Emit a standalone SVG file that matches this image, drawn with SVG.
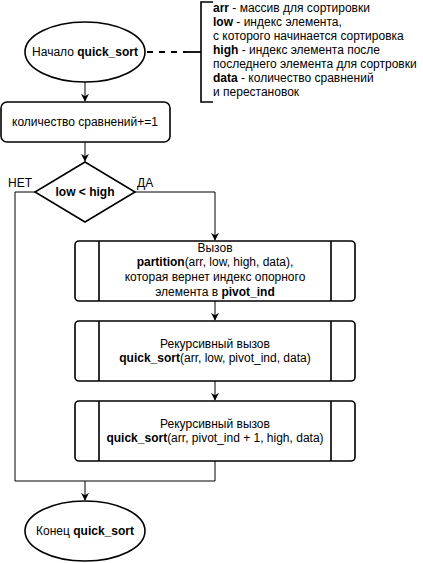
<svg xmlns="http://www.w3.org/2000/svg" width="423" height="563" viewBox="0 0 423 563">
<style>
.s{fill:#fff;stroke:#000;stroke-width:1.6}
.l{fill:none;stroke:#000;stroke-width:1}
.t{font-family:"Liberation Sans",Arial,sans-serif;font-size:12px;fill:#000}
.m{text-anchor:middle}
.b{font-weight:bold}
</style>
<defs>
<marker id="a" viewBox="0 0 10 10" refX="9" refY="5" markerWidth="8" markerHeight="8" markerUnits="userSpaceOnUse" orient="auto">
<path d="M0,0 L10,5 L0,10 L3,5 Z" fill="#000"/>
</marker>
</defs>
<rect width="423" height="563" fill="#fff"/>
<g id="connectors">
<path class="l" d="M85,82 V101" marker-end="url(#a)"/>
<path class="l" d="M85,142 V161" marker-end="url(#a)"/>
<path class="l" d="M135,192 H215 V240" marker-end="url(#a)"/>
<path class="l" d="M215,301 V320" marker-end="url(#a)"/>
<path class="l" d="M215,381 V400" marker-end="url(#a)"/>
<path class="l" d="M35,192 H15 V481 H215 V461"/>
<path class="l" d="M85,481 V500" marker-end="url(#a)"/>
<path class="l" d="M147,52 H186" stroke-dasharray="6,6" style="stroke-width:1.8"/>
<path class="l" d="M186,52 H201" style="stroke-width:1.8"/>
</g>
<g id="start">
<rect class="s" x="25" y="22" width="120" height="60" rx="60" ry="30"/>
<text class="t m" x="85" y="56">Начало <tspan class="b">quick_sort</tspan></text>
</g>
<g id="note">
<path d="M213,2 H201 V102 H213" fill="none" stroke="#000" stroke-width="1.6"/>
<text class="t" x="213" y="12"><tspan class="b">arr</tspan> - массив для сортировки</text>
<text class="t" x="213" y="26"><tspan class="b">low</tspan> - индекс элемента,</text>
<text class="t" x="213" y="40">с которого начинается сортировка</text>
<text class="t" x="213" y="54"><tspan class="b">high</tspan> - индекс элемента после</text>
<text class="t" x="213" y="68">последнего элемента для сортровки</text>
<text class="t" x="213" y="82"><tspan class="b">data</tspan> - количество сравнений</text>
<text class="t" x="213" y="96">и перестановок</text>
</g>
<g id="count">
<rect class="s" x="1" y="102" width="169" height="40" rx="6"/>
<text class="t m" x="85" y="126">количество сравнений+=1</text>
</g>
<g id="cond">
<path class="s" d="M85,162 L135,192 L85,222 L35,192 Z"/>
<text class="t m b" x="85" y="196">low &lt; high</text>
<text class="t" x="8" y="187">НЕТ</text>
<text class="t" x="137" y="187">ДА</text>
</g>
<g id="partition">
<rect class="s" x="75" y="241" width="280" height="60" rx="4"/>
<path class="s" d="M99,241 V301 M331,241 V301"/>
<text class="t m" x="215" y="252">Вызов</text>
<text class="t m" x="215" y="266"><tspan class="b">partition</tspan>(arr, low, high, data),</text>
<text class="t m" x="215" y="281">которая вернет индекс опорного</text>
<text class="t m" x="215" y="296">элемента в <tspan class="b">pivot_ind</tspan></text>
</g>
<g id="rec1">
<rect class="s" x="75" y="321" width="280" height="60" rx="4"/>
<path class="s" d="M99,321 V381 M331,321 V381"/>
<text class="t m" x="215" y="348">Рекурсивный вызов</text>
<text class="t m" x="215" y="362"><tspan class="b">quick_sort</tspan>(arr, low, pivot_ind, data)</text>
</g>
<g id="rec2">
<rect class="s" x="75" y="401" width="280" height="60" rx="4"/>
<path class="s" d="M99,401 V461 M331,401 V461"/>
<text class="t m" x="215" y="428">Рекурсивный вызов</text>
<text class="t m" x="215" y="442"><tspan class="b">quick_sort</tspan>(arr, pivot_ind + 1, high, data)</text>
</g>
<g id="end">
<rect class="s" x="25" y="501" width="120" height="60" rx="60" ry="30"/>
<text class="t m" x="85" y="535">Конец <tspan class="b">quick_sort</tspan></text>
</g>
</svg>
